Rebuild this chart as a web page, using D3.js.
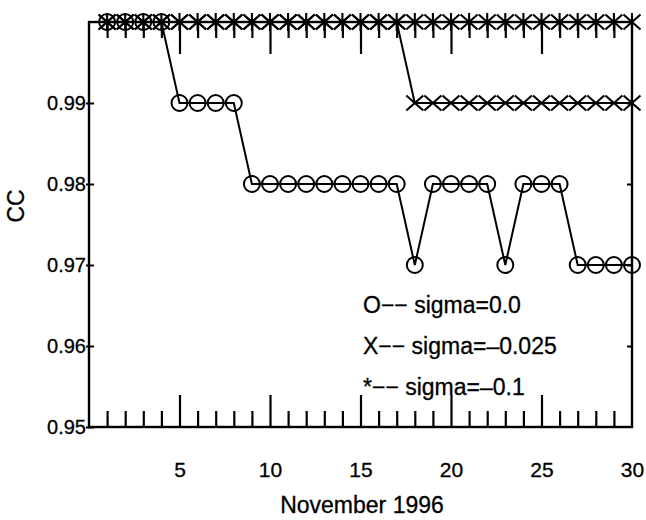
<!DOCTYPE html>
<meta charset="utf-8">
<html>
<body style="margin:0; background-color: white;">
<script src="https://d3js.org/d3.v7.min.js"></script>
<div id="chart"></div>
<script>
    // data: CC per day of November 1996
    var days = [1,2,3,4,5,6,7,8,9,10,11,12,13,14,15,16,17,18,19,20,21,22,23,24,25,26,27,28,29,30];
    var ccSigma0 = [1,1,1,1,0.99,0.99,0.99,0.99,0.98,0.98,0.98,0.98,0.98,0.98,0.98,0.98,0.98,0.97,
                    0.98,0.98,0.98,0.98,0.97,0.98,0.98,0.98,0.97,0.97,0.97,0.97];
    var ccSigma025 = [1,1,1,1,1,1,1,1,1,1,1,1,1,1,1,1,1,0.99,0.99,0.99,0.99,0.99,0.99,0.99,0.99,0.99,0.99,0.99,0.99,0.99];
    var ccSigma1 = [1,1,1,1,1,1,1,1,1,1,1,1,1,1,1,1,1,1,1,1,1,1,1,1,1,1,1,1,1,1];
    var xTicks = [1,2,3,4,5,6,7,8,9,10,11,12,13,14,15,16,17,18,19,20,21,22,23,24,25,26,27,28,29,30];
    var yTicks = [0.95,0.96,0.97,0.98,0.99];
    var legendLines = ["O\u2212\u2212 sigma=0.0", "X\u2212\u2212 sigma=\u20130.025", "*\u2212\u2212 sigma=\u20130.1"];

    var W = 646, H = 520;
    var mLeft = 89, mRight = 632, mTop = 22, mBottom = 427;
    var font = "'Liberation Sans', Arial, Helvetica, sans-serif";

    var svg = d3.select("#chart").append("svg")
      .attr("width", W).attr("height", H)
      .style("font-family", font);

    var x = d3.scaleLinear().domain([0, 30]).range([mLeft, mRight]);
    var y = d3.scaleLinear().domain([0.95, 1.0]).range([mBottom, mTop]);

    // bottom axis: inward ticks, longer every 5 days
    var gx = svg.append("g")
      .attr("transform", "translate(0," + mBottom + ")")
      .call(d3.axisBottom(x).tickValues(xTicks).tickSize(-16).tickPadding(35)
        .tickFormat(function(d){ return d % 5 === 0 ? d : ""; }));
    gx.select(".domain").remove();
    gx.selectAll(".tick line")
      .attr("y2", function(d){ return d % 5 === 0 ? -32 : -16; })
      .attr("stroke-width", 2.2)
      .style("display", function(d){ return d === 30 ? "none" : null; });
    gx.selectAll("text").attr("font-size", 21).attr("font-family", font).attr("fill", "#000")
      .attr("stroke", "#000").attr("stroke-width", 0.3);

    // top axis: same ticks pointing down, no labels
    var gt = svg.append("g")
      .attr("transform", "translate(0," + mTop + ")")
      .call(d3.axisTop(x).tickValues(xTicks.filter(function(d){ return d < 30; })).tickSize(-16).tickFormat(""));
    gt.select(".domain").remove();
    gt.selectAll(".tick line")
      .attr("y2", function(d){ return d % 5 === 0 ? 32 : 16; })
      .attr("stroke-width", 2.2);

    // left axis
    var gy = svg.append("g")
      .attr("transform", "translate(" + mLeft + ",0)")
      .call(d3.axisLeft(y).tickValues(yTicks).tickSize(-5).tickPadding(3)
        .tickFormat(d3.format(".2f")));
    gy.select(".domain").remove();
    gy.selectAll(".tick line").attr("x1", -3).attr("stroke-width", 2);
    gy.selectAll("text").attr("font-size", 20).attr("font-family", font).attr("fill", "#000")
      .attr("stroke", "#000").attr("stroke-width", 0.3);

    // right axis, small inward ticks
    var gr = svg.append("g")
      .attr("transform", "translate(" + mRight + ",0)")
      .call(d3.axisRight(y).tickValues(yTicks.filter(function(d){ return d > 0.95; })).tickSize(-5).tickFormat(""));
    gr.select(".domain").remove();
    gr.selectAll(".tick line").attr("stroke-width", 2);

    // frame
    svg.append("rect")
      .attr("x", mLeft).attr("y", mTop)
      .attr("width", mRight - mLeft).attr("height", mBottom - mTop)
      .attr("fill", "none").attr("stroke", "#000").attr("stroke-width", 2.4);

    var line = d3.line()
      .x(function(d){ return x(d[0]); })
      .y(function(d){ return y(d[1]); });

    function pairs(vals) { return days.map(function(d, i){ return [d, vals[i]]; }); }

    // sigma = 0.0, circles
    svg.append("path").datum(pairs(ccSigma0))
      .attr("d", line).attr("fill", "none").attr("stroke", "#000").attr("stroke-width", 2);
    svg.selectAll(".circ").data(pairs(ccSigma0)).enter().append("circle")
      .attr("cx", function(d){ return x(d[0]); })
      .attr("cy", function(d){ return y(d[1]); })
      .attr("r", 8)
      .attr("fill", "none").attr("stroke", "#000").attr("stroke-width", 2);

    // sigma = -0.025, crosses
    var cw = 8.5, ch = 7.5;
    svg.append("path").datum(pairs(ccSigma025))
      .attr("d", line).attr("fill", "none").attr("stroke", "#000").attr("stroke-width", 2);
    svg.selectAll(".xm").data(pairs(ccSigma025)).enter().append("path")
      .attr("d", function(d){
        var px = x(d[0]), py = y(d[1]);
        return "M" + (px - cw) + "," + (py - ch) + "L" + (px + cw) + "," + (py + ch) +
               "M" + (px - cw) + "," + (py + ch) + "L" + (px + cw) + "," + (py - ch);
      })
      .attr("fill", "none").attr("stroke", "#000").attr("stroke-width", 2.1);

    // sigma = -0.1, asterisks
    svg.append("path").datum(pairs(ccSigma1))
      .attr("d", line).attr("fill", "none").attr("stroke", "#000").attr("stroke-width", 2);
    svg.selectAll(".ast").data(pairs(ccSigma1)).enter().append("path")
      .attr("d", function(d){
        var px = x(d[0]), py = y(d[1]);
        return "M" + (px - cw) + "," + (py - ch) + "L" + (px + cw) + "," + (py + ch) +
               "M" + (px - cw) + "," + (py + ch) + "L" + (px + cw) + "," + (py - ch) +
               "M" + px + "," + (py - 9) + "L" + px + "," + (py + 9);
      })
      .attr("fill", "none").attr("stroke", "#000").attr("stroke-width", 2.1);

    // legend text
    svg.selectAll(".leg").data(legendLines).enter().append("text")
      .attr("x", 363)
      .attr("y", function(d, i){ return 313 + i * 41; })
      .attr("font-size", 23)
      .attr("stroke", "#000").attr("stroke-width", 0.3)
      .text(function(d){ return d; });

    // axis titles
    svg.append("text")
      .attr("x", 362).attr("y", 513)
      .attr("text-anchor", "middle").attr("font-size", 23)
      .attr("stroke", "#000").attr("stroke-width", 0.3)
      .text("November 1996");
    svg.append("text")
      .attr("transform", "translate(24,206) rotate(-90)")
      .attr("text-anchor", "middle").attr("font-size", 23)
      .attr("stroke", "#000").attr("stroke-width", 0.3)
      .text("CC");
</script>
</body>
</html>
